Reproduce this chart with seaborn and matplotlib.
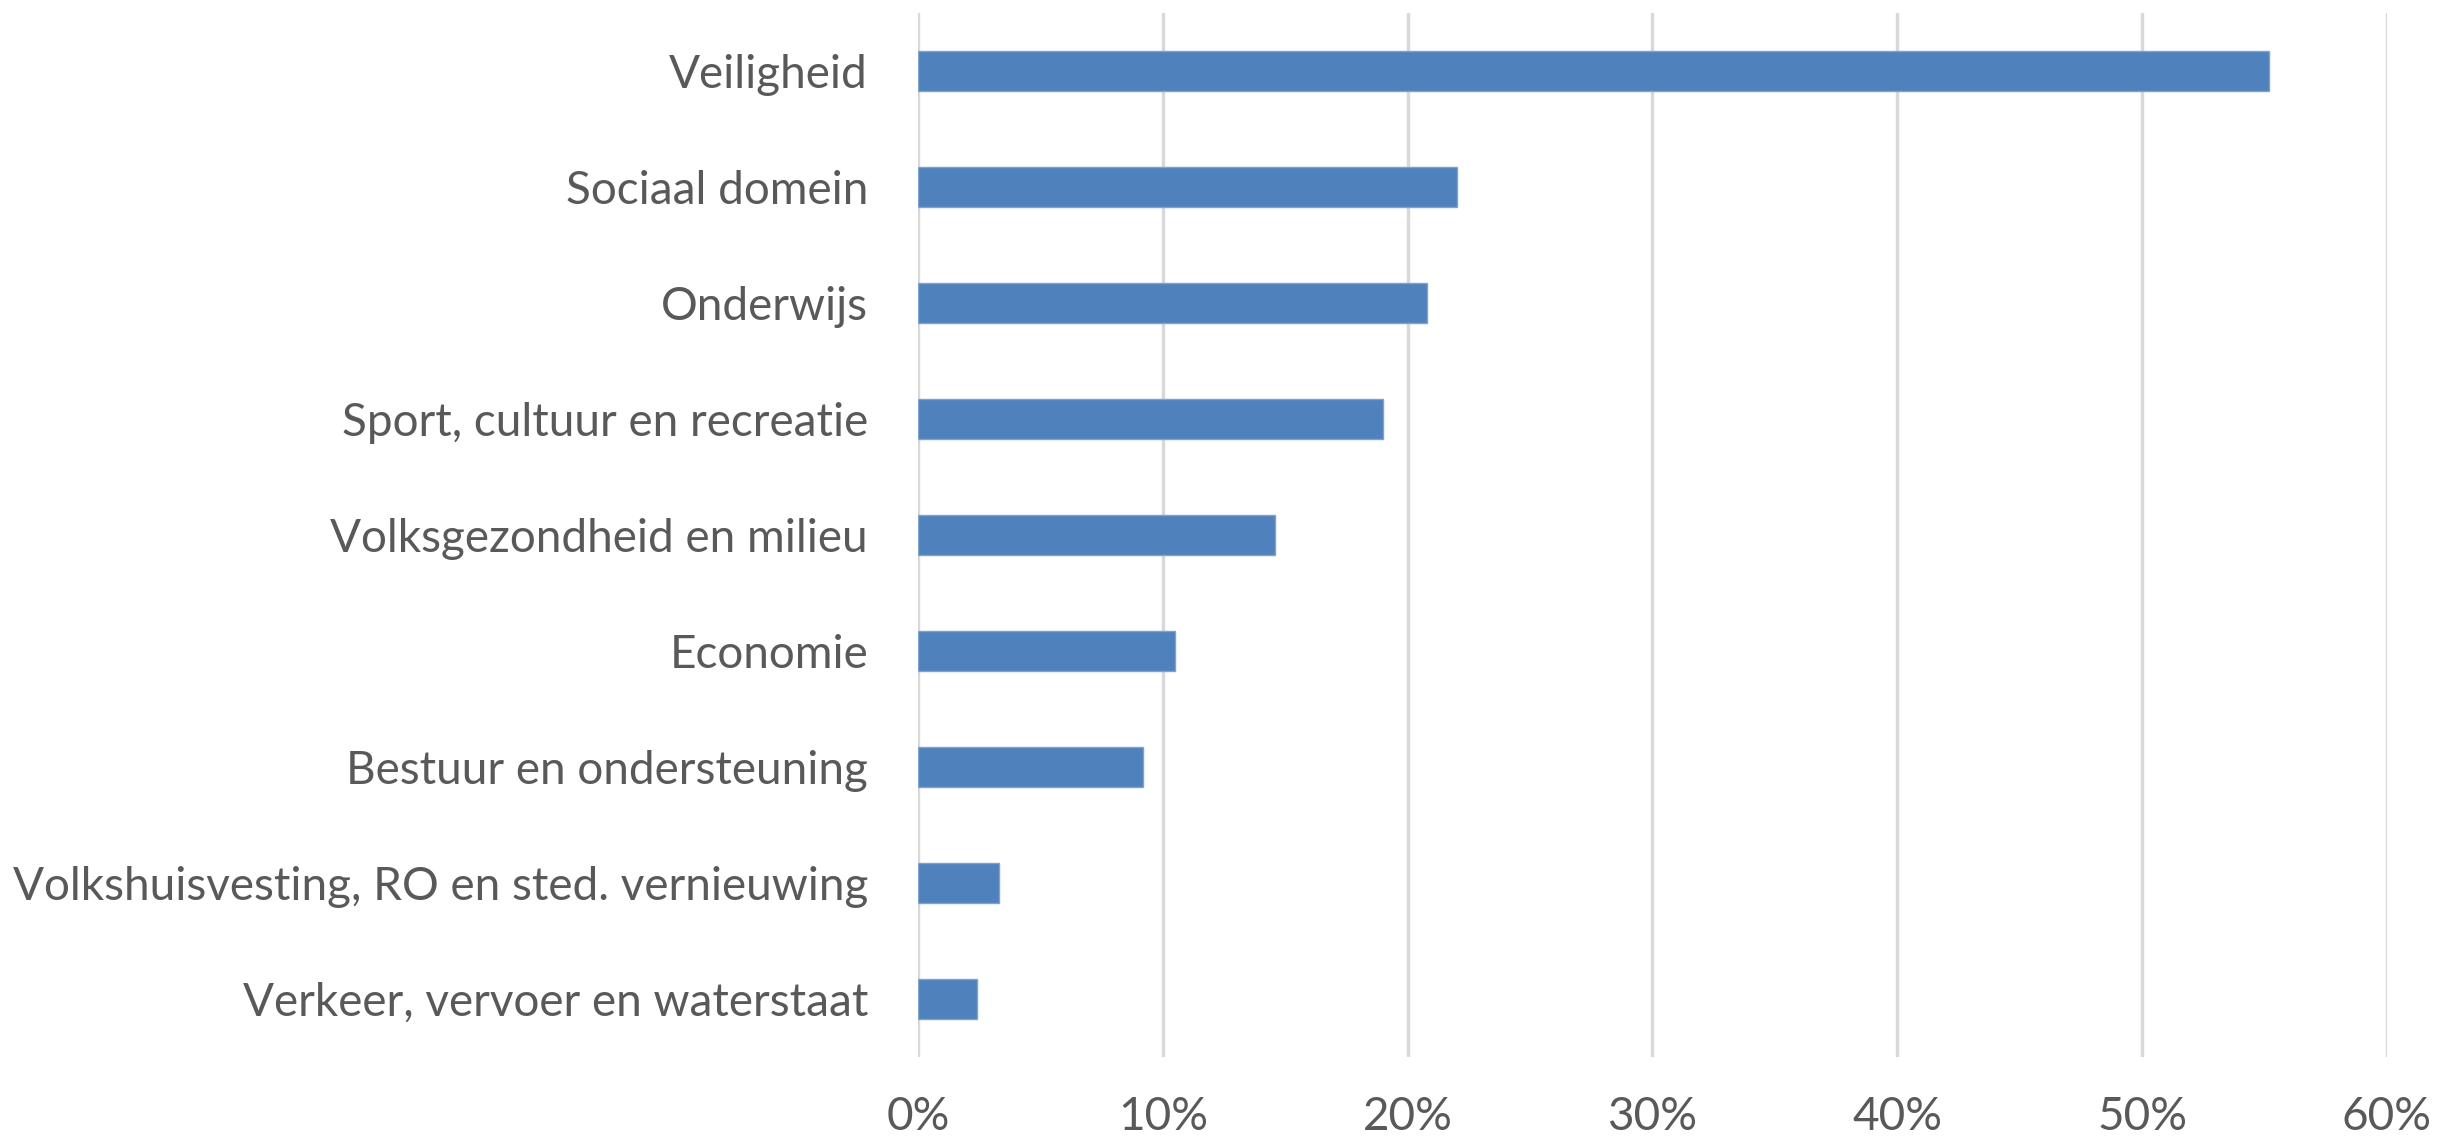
import seaborn as sns
from matplotlib import pyplot as plt
from matplotlib.ticker import PercentFormatter
import pandas as pd

# categorieën en aandelen
categories = [
    'Veiligheid',
    'Sociaal domein',
    'Onderwijs',
    'Sport, cultuur en recreatie',
    'Volksgezondheid en milieu',
    'Economie',
    'Bestuur en ondersteuning',
    'Volkshuisvesting, RO en sted. vernieuwing',
    'Verkeer, vervoer en waterstaat',
]
shares = [0.552, 0.220, 0.208, 0.190, 0.146, 0.105, 0.092, 0.033, 0.024]
xticks = [0, 0.1, 0.2, 0.3, 0.4, 0.5, 0.6]

df = pd.DataFrame({'categorie': categories, 'aandeel': shares})

sns.set_style('white')
plt.rcParams['font.family'] = ['Lato', 'DejaVu Sans']

fig = plt.figure(figsize=(24.62, 11.38), dpi=100)
ax = fig.add_axes([0.3729, 0.0712, 0.5966, 0.9174])

sns.barplot(data=df, x='aandeel', y='categorie', orient='h', color='#4F81BD',
            saturation=1, width=0.34, edgecolor='#7FA3D1', linewidth=1, ax=ax)

ax.set_xlim(0, 0.6)
ax.set_xticks(xticks)
ax.xaxis.set_major_formatter(PercentFormatter(1.0, decimals=0))
ax.grid(axis='x', color='#D9D9D9', linewidth=2.5)
ax.set_axisbelow(True)
sns.despine(ax=ax, left=True, bottom=True)
ax.tick_params(axis='both', length=0, labelsize=33, labelcolor='#595959')
ax.tick_params(axis='x', pad=28)
ax.tick_params(axis='y', pad=36)
ax.set_xlabel('')
ax.set_ylabel('')

fig.savefig('out.png', dpi=100)
